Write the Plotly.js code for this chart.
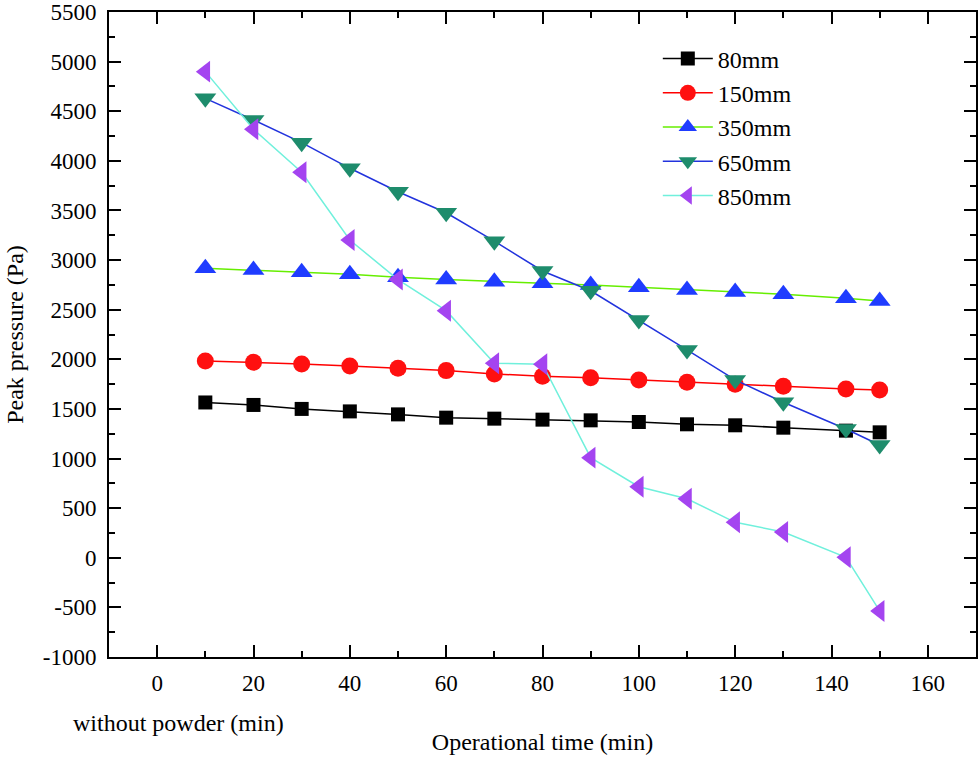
<!DOCTYPE html>
<html>
<head>
<meta charset="utf-8">
<script src="https://cdn.plot.ly/plotly-3.0.1.min.js"></script>
<style>
html,body{margin:0;padding:0;background:#fff;}
#chart{width:980px;height:758px;}
#chart .xtick text, #chart .ytick text{font-family:"Liberation Serif","Times New Roman",serif !important;font-size:23px !important;}
</style>
</head>
<body>
<div id="chart"></div>
<script>
var timeMin = [10,20,30,40,50,60,70,80,90,100,110,120,130,143,150];
var p80 = [1565,1540,1500,1475,1445,1412,1402,1392,1385,1368,1345,1335,1311,1281,1264];
var p150 = [1983,1970,1953,1933,1909,1886,1853,1830,1815,1792,1768,1748,1728,1701,1690];
var p350 = [2917,2900,2877,2857,2826,2805,2782,2766,2749,2726,2698,2678,2655,2615,2588];
var p650 = [4630,4412,4183,3925,3689,3477,3190,2890,2691,2396,2094,1792,1567,1298,1136];
var p850 = [4899,4318,3885,3202,2804,2490,1960,1950,1009,716,595,357,260,5,-536];
var seriesNames = ['80mm','150mm','350mm','650mm','850mm'];
var yTickVals = [-1000,-500,0,500,1000,1500,2000,2500,3000,3500,4000,4500,5000,5500];
var yTickText = ['-1000','-500','0','500','1000','1500','2000','2500','3000','3500','4000','4500','5000','5500'];
var xTickVals = [0,20,40,60,80,100,120,140,160];

var font = '"Liberation Serif", "Times New Roman", serif';
function tr(name, y, lineColor, mColor, sym, size){
  return {x: timeMin, y: y, name: name, type:'scatter', mode:'lines+markers',
    line:{color: lineColor, width:1.5},
    marker:{color: mColor, symbol: sym, size: size, line:{width:0}}};
}
var data = [
  tr(seriesNames[0], p80, '#000000', '#000000', 'square', 14),
  tr(seriesNames[1], p150, '#ff0000', '#ff1010', 'circle', 17),
  tr(seriesNames[2], p350, '#66ee00', '#1f3cff', 'triangle-up', 19),
  tr(seriesNames[3], p650, '#2233dd', '#1e8c6c', 'triangle-down', 19),
  tr(seriesNames[4], p850, '#70f0dc', '#a444f0', 'triangle-left', 19)
];
function axis(extra){
  var a = {showline:true, linecolor:'#000', linewidth:2, mirror:'allticks',
    ticks:'inside', ticklen:12, tickwidth:2, tickcolor:'#000', showgrid:false, zeroline:false,
    tickfont:{family:font, size:23, color:'#000'}};
  for (var k in extra) a[k] = extra[k];
  return a;
}
var layout = {
  width:980, height:758, margin:{l:109, r:4, t:12, b:101},
  paper_bgcolor:'#fff', plot_bgcolor:'#fff',
  font:{family:font, size:23, color:'#000'},
  showlegend:true,
  legend:{x:0.633, y:0.962, xanchor:'left', yanchor:'top', bgcolor:'rgba(0,0,0,0)',
    font:{family:font, size:24, color:'#000'}, tracegroupgap:0, itemwidth:50},
  xaxis: axis({range:[-10,170], tickmode:'array', tickvals:xTickVals, ticklabelstandoff:4,
    minor:{dtick:10, tick0:0, ticks:'inside', ticklen:6, tickwidth:2, tickcolor:'#000'},
    title:{text:'Operational time (min)', font:{family:font, size:24, color:'#000'}, standoff:39}}),
  yaxis: axis({range:[-1000,5500], tickmode:'array', tickvals:yTickVals, ticktext:yTickText, ticklabelstandoff:6,
    minor:{dtick:250, tick0:0, ticks:'inside', ticklen:6, tickwidth:2, tickcolor:'#000'},
    title:{text:'Peak pressure (Pa)', font:{family:font, size:24, color:'#000'}, standoff:12}}),
  annotations:[{text:'without powder (min)', xref:'paper', yref:'paper', x:0.08, y:-0.1023,
    xanchor:'center', yanchor:'middle', showarrow:false, font:{family:font, size:24, color:'#000'}}]
};
Plotly.newPlot('chart', data, layout, {displayModeBar:false, staticPlot:true});
</script>
</body>
</html>
